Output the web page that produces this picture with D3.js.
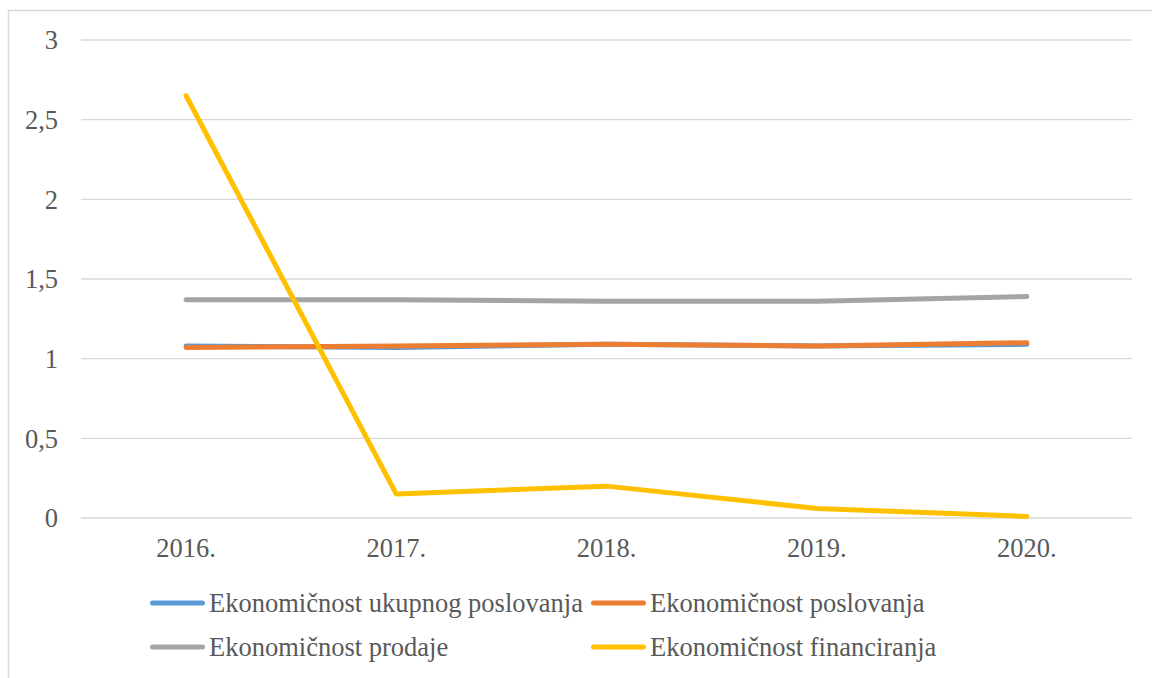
<!DOCTYPE html>
<html><head><meta charset="utf-8">
<script src="https://cdn.jsdelivr.net/npm/d3@7"></script>
<style>body{margin:0;background:#fff;}</style>
</head><body>
<svg id="c" width="1152" height="678"></svg>
<script>
const categories = ["2016.", "2017.", "2018.", "2019.", "2020."];
const seriesNames = ["Ekonomičnost ukupnog poslovanja", "Ekonomičnost poslovanja", "Ekonomičnost prodaje", "Ekonomičnost financiranja"];
const ukupnog = [1.08, 1.07, 1.09, 1.08, 1.09];
const poslovanja = [1.07, 1.08, 1.09, 1.08, 1.10];
const prodaje = [1.37, 1.37, 1.36, 1.36, 1.39];
const financiranja = [2.65, 0.15, 0.20, 0.06, 0.01];
const yTicks = [0, 0.5, 1, 1.5, 2, 2.5, 3];
const colors = ["#5b9bd5", "#ed7d31", "#a5a5a5", "#ffc000"];

const FONT = "'Liberation Serif', 'Times New Roman', 'DejaVu Serif', serif";
const FS = 26.5;
const series = [ukupnog, poslovanja, prodaje, financiranja];
const svg = d3.select("#c");
svg.append("rect").attr("x", 8.5).attr("y", 10.5).attr("width", 1160).attr("height", 700)
  .attr("fill", "none").attr("stroke", "#d9d9d9").attr("stroke-width", 1.5);

const x = d3.scaleBand().domain(categories).range([81, 1132]);
const y = d3.scaleLinear().domain([0, 3]).range([518, 40]);

svg.append("g").selectAll("line").data(yTicks).enter().append("line")
  .attr("x1", 81).attr("x2", 1132).attr("y1", d => y(d)).attr("y2", d => y(d))
  .attr("stroke", "#d9d9d9").attr("stroke-width", 1.3);

const fmt = d => String(d).replace(".", ",");
const yAxis = d3.axisLeft(y).tickValues(yTicks).tickFormat(fmt).tickSize(0).tickPadding(0);
const ya = svg.append("g").attr("transform", "translate(58,0)").call(yAxis)
  .attr("font-family", FONT).attr("font-size", FS);
ya.select(".domain").remove();
ya.selectAll("text").style("font-family", FONT).attr("fill", "#595959").attr("dy", "0.33em");

const xAxis = d3.axisBottom(x).tickSize(0).tickPadding(0);
const xa = svg.append("g").attr("transform", "translate(0,557)").call(xAxis)
  .attr("font-family", FONT).attr("font-size", FS);
xa.select(".domain").remove();
xa.selectAll("text").style("font-family", FONT).attr("fill", "#595959").attr("dy", "0").attr("y", 0);

const line = d3.line().x((d, i) => x(categories[i]) + x.bandwidth() / 2).y(d => y(d));
series.forEach((s, k) => {
  svg.append("path").datum(s).attr("d", line).attr("fill", "none")
    .attr("stroke", colors[k]).attr("stroke-width", 5)
    .attr("stroke-linecap", "round").attr("stroke-linejoin", "round");
});

const legPos = [[152.5, 603, 209], [593.5, 603, 650], [152.5, 647, 209], [593.5, 647, 650]];
seriesNames.forEach((n, k) => {
  const [lx, ly, tx] = legPos[k];
  svg.append("line").attr("x1", lx).attr("x2", lx + 50).attr("y1", ly).attr("y2", ly)
    .attr("stroke", colors[k]).attr("stroke-width", 5).attr("stroke-linecap", "round");
  svg.append("text").attr("x", tx).attr("y", ly + 9.3)
    .style("font-family", FONT).attr("font-size", FS).attr("fill", "#595959").text(n);
});
</script>
</body></html>
